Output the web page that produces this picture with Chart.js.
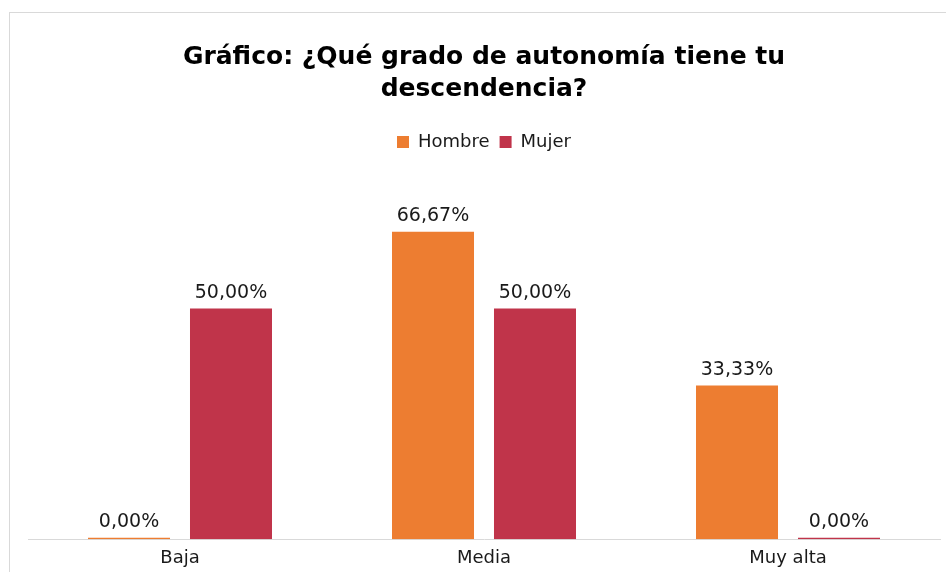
<!DOCTYPE html>
<html>
<head>
<meta charset="utf-8">
<script src="https://cdn.jsdelivr.net/npm/chart.js@4.4.0/dist/chart.umd.min.js"></script>
<style>
  html, body { margin: 0; padding: 0; background: #fff; overflow: hidden; }
  #frame { position: absolute; left: 9px; top: 12px; width: 1000px; height: 700px; border: 1px solid #d9d9d9; }
  #wrap { position: absolute; left: 0; top: 0; width: 946px; height: 572px; }
</style>
</head>
<body>
<div id="frame"></div>
<div id="wrap"><canvas id="grafico"></canvas></div>
<script>
// datos
const categorias = ["Baja", "Media", "Muy alta"];
const hombre = [0, 66.67, 33.33];
const mujer = [50, 50, 0];

// etiquetas encima de cada barra
const etiquetas = {
    id: "etiquetas",
    afterDatasetsDraw(chart) {
        const ctx = chart.ctx;
        ctx.save();
        ctx.font = "19px 'DejaVu Sans'";
        ctx.fillStyle = "#1a1a1a";
        ctx.textAlign = "center";
        ctx.textBaseline = "bottom";
        chart.data.datasets.forEach((ds, i) => {
            chart.getDatasetMeta(i).data.forEach((bar, j) => {
                const txt = ds.data[j].toFixed(2).replace(".", ",") + "%";
                ctx.fillText(txt, bar.x, bar.y - 6);
            });
        });
        ctx.restore();
    }
};

document.addEventListener("DOMContentLoaded", function () {
    const ctx = document.getElementById("grafico").getContext("2d");
    new Chart(ctx, {
        type: "bar",
        data: {
            labels: categorias,
            datasets: [{
                label: "Hombre",
                data: hombre,
                backgroundColor: "#ED7D31"
            }, {
                label: "Mujer",
                data: mujer,
                backgroundColor: "#C0344A"
            }]
        },
        options: {
            responsive: true,
            maintainAspectRatio: false,
            animation: false,
            barPercentage: 0.804,
            categoryPercentage: 0.671,
            minBarLength: 1.5,
            layout: { padding: { left: 28, right: 6, top: 41, bottom: 3 } },
            scales: {
                x: {
                    grid: { display: false },
                    border: { color: "#d9d9d9", width: 1 },
                    ticks: { color: "#1a1a1a", font: { family: "'DejaVu Sans'", size: 18, lineHeight: 1.1 }, padding: 1 }
                },
                y: {
                    display: false,
                    min: 0,
                    max: 82
                }
            },
            plugins: {
                title: {
                    display: true,
                    text: ["Gráfico: ¿Qué grado de autonomía tiene tu", "descendencia?"],
                    color: "#000",
                    font: { family: "'DejaVu Sans'", size: 25, weight: "bold", lineHeight: "32px" },
                    padding: { top: 0, bottom: 18 }
                },
                legend: {
                    labels: {
                        boxWidth: 12,
                        boxHeight: 12,
                        color: "#1a1a1a",
                        font: { family: "'DejaVu Sans'", size: 18 },
                        padding: 10
                    }
                },
                tooltip: { enabled: false }
            }
        },
        plugins: [etiquetas]
    });
});
</script>
</body>
</html>
